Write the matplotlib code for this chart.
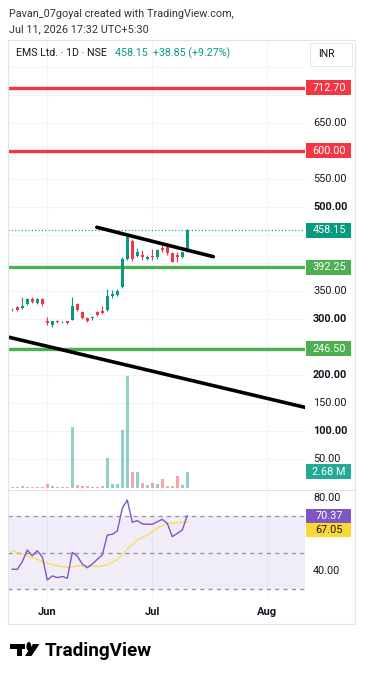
import matplotlib
matplotlib.use('Agg')
import matplotlib.pyplot as plt
from matplotlib.patches import Rectangle, Polygon, Circle
from matplotlib.lines import Line2D

plt.rcParams['font.family'] = ['Roboto', 'DejaVu Sans']

W, H = 365, 679

# daily candles, 21 May .. 10 Jul (bar index 0..35)
opens = [318, 321, 320, 327, 335, 328, 335, 296, 289, 296, 294, 296, 299, 326, 312, 302, 301, 312,
         315, 316, 341, 343, 358, 408, 440, 413, 414, 408, 413, 410, 427, 429, 417, 414, 411, 420]
highs = [320, 323, 340, 338, 339, 337, 337, 303, 297, 298, 297, 297, 339, 328, 314, 304, 305, 314,
         323, 353, 351, 353, 410, 451, 443, 426, 423, 414, 425, 425, 434, 431, 419, 419, 421, 461]
lows = [315, 314, 318, 325, 329, 327, 324, 289, 285, 292, 292, 291, 298, 314, 300, 294, 299, 306,
        309, 314, 337, 341, 356, 405, 404, 410, 405, 406, 406, 408, 419, 415, 401, 401, 409, 419]
closes = [317, 316, 324, 336, 331, 335, 326, 292, 296, 294, 295, 292, 324, 316, 302, 296, 304, 308,
          311, 341, 345, 350, 408, 447, 408, 420, 410, 411, 411, 423, 423, 417, 402, 410, 419.3, 458.15]
volumes = [0.16, 0.16, 0.33, 0.21, 0.21, 0.16, 0.21, 0.71, 0.28, 0.16, 0.12, 0.12, 9.98, 0.44, 0.33,
           0.28, 0.21, 0.21, 0.33, 4.93, 0.66, 0.66, 9.49, 18.25, 2.68, 2.58, 0.87, 0.44, 0.82, 0.61,
           1.53, 0.38, 0.38, 1.97, 0.44, 2.68]
rsi = [41.0, 40.9, 45.1, 51.5, 48.4, 51.1, 47.8, 35.1, 37.3, 36.4, 37.0, 36.0, 50.2, 48.2, 43.8, 41.8,
       43.8, 46.4, 48.8, 59.7, 60.1, 61.9, 74.4, 78.9, 66.7, 67.6, 65.8, 65.6, 65.6, 67.0, 68.3, 66.1,
       58.8, 60.6, 62.5, 70.37]
rsi_ma = [51.2, 50.2, 49.3, 48.4, 47.4, 46.4, 45.3, 44.2, 43.5, 42.9, 42.4, 42.0, 42.3, 42.8, 42.8, 42.8,
          42.6, 42.4, 42.8, 43.3, 44.7, 46.4, 49.0, 51.9, 54.5, 57.0, 58.5, 59.7, 61.5, 63.4, 64.8, 66.1,
          66.3, 66.5, 66.8, 67.05]

month_pos = [7, 28, 51]
month_labels = ['Jun', 'Jul', 'Aug']
price_ticks = [50, 100, 150, 200, 250, 300, 350, 400, 450, 500, 550, 600, 650, 700, 750]
bold_ticks = [100, 200, 300, 400, 500, 700]
red_levels = [712.70, 600.00]
green_levels = [392.25, 246.50]
upper_line = ([16.9, 40.2], [463.8, 411.3])
lower_line = ([-0.6, 58.5], [267.3, 142.3])

GREEN = '#089981'
RED = '#F23645'
TXT = '#131722'

fig = plt.figure(figsize=(W / 100, H / 100), dpi=100)
fig.patch.set_facecolor('white')


def fx(px):
    return px / W


def fy(py):
    return 1 - py / H


L, R = 8, 305
ax = fig.add_axes([fx(L), fy(490), (R - L) / W, 450 / H])
axv = ax.twinx()
axr = fig.add_axes([fx(L), fy(598), (R - L) / W, 108 / H], sharex=ax)

for a in (ax, axv, axr):
    for s in a.spines.values():
        s.set_visible(False)
    a.tick_params(left=False, right=False, bottom=False, top=False,
                  labelleft=False, labelright=False, labelbottom=False)

ax.set_xlim(-0.86, 58.54)
ax.set_ylim(-5.36, 798.2)
axv.set_ylim(-0.33, 73.0)
axr.set_ylim(25.21, 84.38)

# grid
for m in month_pos:
    ax.axvline(m, color='#F0F3FA', lw=0.8, zorder=0)
    axr.axvline(m, color='#F0F3FA', lw=0.8, zorder=0)
for p in price_ticks:
    ax.axhline(p, color='#F0F3FA', lw=0.8, zorder=0)

idx = list(range(len(closes)))
cols = [GREEN if c >= o else RED for o, c in zip(opens, closes)]

# volume
axv.bar(idx, volumes, width=0.68, color=cols, alpha=0.45, zorder=1)

# last price dotted line
ax.axhline(closes[-1], color=GREEN, lw=0.8, ls=(0, (1, 2)), zorder=1)

# levels
for lv in red_levels:
    ax.axhline(lv, color=RED, lw=2.4, zorder=2)
for lv in green_levels:
    ax.axhline(lv, color='#4CAF50', lw=2.4, zorder=2)

# candles
ax.vlines(idx, lows, highs, colors=cols, lw=0.8, zorder=3)
bottoms = [min(o, c) for o, c in zip(opens, closes)]
heights = [max(abs(c - o), 1.2) for o, c in zip(opens, closes)]
ax.bar(idx, heights, bottom=bottoms, width=0.7, color=cols, zorder=4)

# trend lines
ax.plot(upper_line[0], upper_line[1], color='black', lw=2.6, solid_capstyle='round', zorder=5)
ax.axline((lower_line[0][0], lower_line[1][0]), (lower_line[0][1], lower_line[1][1]),
          color='black', lw=2.6, zorder=5)

BOX_X0 = (306 - L) / (R - L)
BOX_W = 45 / (R - L)
TXT_X = (329 - L) / (R - L)
PX_PER_UNIT = 450 / (798.2 + 5.36)

# price scale texts (skip the ones that sit under a coloured label or the INR box)
ty = ax.get_yaxis_transform()
covered = red_levels + green_levels + [closes[-1]]
for p in price_ticks:
    if any(abs(p - c) * PX_PER_UNIT < 13 for c in covered) or p * PX_PER_UNIT > 420:
        continue
    ax.text((313 - L) / (R - L), p, f'{p:.2f}', transform=ty, ha='left', va='center',
            fontsize=7.8, color=TXT, fontweight='bold' if p in bold_ticks else 'normal',
            clip_on=False, zorder=6)


def scale_label(a, axes_h_px, value, text, face, fg='white', center=None, box_px=15):
    lo, hi = a.get_ylim()
    h = box_px * (hi - lo) / axes_h_px
    c = value if center is None else center
    tr = a.get_yaxis_transform()
    a.add_patch(Rectangle((BOX_X0, c - h / 2), BOX_W, h, transform=tr, facecolor=face,
                          edgecolor='none', clip_on=False, zorder=7))
    a.text(TXT_X, c, text, transform=tr, ha='center', va='center', fontsize=7.8,
           color=fg, clip_on=False, zorder=8)


for lv in red_levels:
    scale_label(ax, 450, lv, f'{lv:.2f}', RED)
for lv in green_levels:
    scale_label(ax, 450, lv, f'{lv:.2f}', '#4CAF50')
scale_label(ax, 450, closes[-1], f'{closes[-1]:.2f}', GREEN)
scale_label(axv, 450, volumes[-1], f'{volumes[-1]:.2f} M', '#22AB94')

# RSI pane
axr.axhspan(30, 70, color='#7E57C2', alpha=0.1, lw=0, zorder=0)
for lv in (70, 50, 30):
    axr.axhline(lv, color='#9598A1', lw=1.0, dashes=(3, 3), zorder=1)
axr.plot(idx, rsi_ma, color='#FDD835', lw=1.1, alpha=0.75, zorder=2)
axr.plot(idx, rsi, color='#7E57C2', lw=1.0, zorder=3)
tr_r = axr.get_yaxis_transform()
for v in (80, 40):
    axr.text((313 - L) / (R - L), v, f'{v:.2f}', transform=tr_r, ha='left', va='center',
             fontsize=7.8, color=TXT, clip_on=False)
scale_label(axr, 108, rsi[-1], f'{rsi[-1]:.2f}', '#7E57C2', box_px=14)
lo, hi = axr.get_ylim()
scale_label(axr, 108, rsi_ma[-1], f'{rsi_ma[-1]:.2f}', '#FDD835', fg=TXT,
            center=rsi[-1] - 14.5 * (hi - lo) / 108, box_px=14)

# time axis
tx = axr.get_xaxis_transform()
for m, lab in zip(month_pos, month_labels):
    axr.text(m, -(612 - 598) / 108, lab, transform=tx, ha='center', va='center',
             fontsize=8, fontweight='bold', color=TXT, clip_on=False)

# frame
fig.add_artist(Rectangle((fx(8), fy(624)), (355 - 8) / W, (624 - 40) / H, fill=False,
                         edgecolor='#E0E3EB', lw=0.8, transform=fig.transFigure))
fig.add_artist(Line2D([fx(8), fx(355)], [fy(490), fy(490)], color='#E0E3EB', lw=0.8,
                      transform=fig.transFigure))

# header
fig.text(fx(9), fy(14), 'Pavan_07goyal created with TradingView.com,', fontsize=7.8, color='#333333',
         va='center', ha='left')
fig.text(fx(9), fy(29), 'Jul 11, 2026 17:32 UTC+5:30', fontsize=7.8, color='#333333',
         va='center', ha='left')
fig.text(fx(16), fy(53), 'EMS Ltd. · 1D · NSE', fontsize=7.7, color=TXT, va='center', ha='left')
fig.text(fx(115), fy(53), '458.15  +38.85 (+9.27%)', fontsize=7.7, color=GREEN, va='center', ha='left')
fig.add_artist(Rectangle((fx(310), fy(66)), 42 / W, 23 / H, facecolor='white',
                         edgecolor='#E0E3EB', lw=0.6, transform=fig.transFigure, zorder=9))
fig.text(fx(326), fy(54), 'INR', fontsize=7.5, color=TXT, va='center', ha='center', zorder=10)

# footer logo
fig.add_artist(Polygon([(fx(10), fy(644)), (fx(25), fy(644)), (fx(25), fy(648.7)),
                        (fx(21.7), fy(648.7)), (fx(21.7), fy(656)), (fx(16.7), fy(656)),
                        (fx(16.7), fy(648.7)), (fx(10), fy(648.7))],
                       closed=True, facecolor='black', edgecolor='none', transform=fig.transFigure))
fig.add_artist(Circle((fx(28.8), fy(646.4)), 2.4 / W, facecolor='black', edgecolor='none',
                      transform=fig.transFigure))
fig.add_artist(Polygon([(fx(33), fy(644)), (fx(39.5), fy(644)), (fx(31.5), fy(656)),
                        (fx(25), fy(656))],
                       closed=True, facecolor='black', edgecolor='none', transform=fig.transFigure))
fig.text(fx(45), fy(651), 'TradingView', fontsize=13.6, fontweight='bold', color='black',
         va='center', ha='left')

fig.savefig('out.png', dpi=100, facecolor='white')
